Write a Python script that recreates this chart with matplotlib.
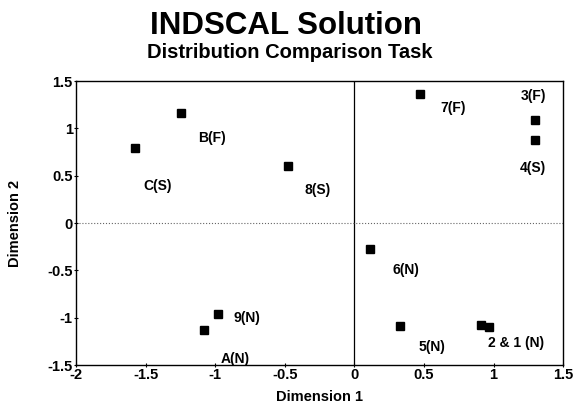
import matplotlib.pyplot as plt

plt.rcParams["font.family"] = ["Liberation Sans", "DejaVu Sans"]

# INDSCAL stimulus coordinates
stimuli = ["B", "C", "8", "7", "3", "4", "6", "9", "A", "5", "2", "1"]
dim1 = [-1.25, -1.58, -0.48, 0.47, 1.30, 1.30, 0.11, -0.98, -1.08, 0.33, 0.91, 0.97]
dim2 = [1.16, 0.79, 0.60, 1.36, 1.09, 0.88, -0.27, -0.96, -1.13, -1.09, -1.08, -1.10]
labels = ["B(F)", "C(S)", "8(S)", "7(F)", "3(F)", "4(S)", "6(N)", "9(N)",
          "A(N)", "5(N)", "", "2 & 1 (N)"]

# label placement relative to marker, in pixels
offsets = [(18, -25), (9, -38), (17, -24), (21, -14), (-15, 24), (-16, -28),
           (23, -21), (15, -4), (16, -29), (18, -21), (0, 0), (-1, -16)]

xticks = [-2, -1.5, -1, -0.5, 0, 0.5, 1, 1.5]
yticks = [-1.5, -1, -0.5, 0, 0.5, 1, 1.5]

fig = plt.figure(figsize=(5.86, 4.04), dpi=100)
ax = fig.add_axes([0.130, 0.0965, 0.831, 0.703])

ax.plot(dim1, dim2, "s", color="black", markersize=5.5, ls="none", zorder=3)

for x, y, lab, (dx, dy) in zip(dim1, dim2, labels, offsets):
    if not lab:
        continue
    ax.annotate(lab, (x, y), xytext=(dx, dy), textcoords="offset pixels",
                ha="left", va="center", fontsize=10, fontweight="bold")

ax.axvline(0, color="black", lw=0.9, zorder=1)
ax.axhline(0, color="#666666", lw=0.8, ls=":", zorder=1)

ax.set_xlim(-2, 1.5)
ax.set_ylim(-1.5, 1.5)
ax.set_xticks(xticks)
ax.set_yticks(yticks)
ax.set_xticklabels([f"{t:g}" for t in xticks], fontweight="bold")
ax.set_yticklabels([f"{t:g}" for t in yticks], fontweight="bold")
ax.tick_params(labelsize=10.5, length=3, width=0.8, direction="inout", pad=1)
for sp in ax.spines.values():
    sp.set_linewidth(1.0)

ax.set_xlabel("Dimension 1", fontsize=10.5, fontweight="bold")
ax.set_ylabel("Dimension 2", fontsize=10.5, fontweight="bold")
ax.xaxis.set_label_coords(0.5, -0.113)
ax.yaxis.set_label_coords(-0.125, 0.5)
ax.xaxis.label.set_va("center")
ax.yaxis.label.set_va("center")

fig.text(0.488, 0.935, "INDSCAL Solution", ha="center", va="center",
         fontsize=22.5, fontweight="bold")
fig.text(0.495, 0.871, "Distribution Comparison Task", ha="center", va="center",
         fontsize=14.5, fontweight="bold")

fig.savefig("out.png", dpi=100)
